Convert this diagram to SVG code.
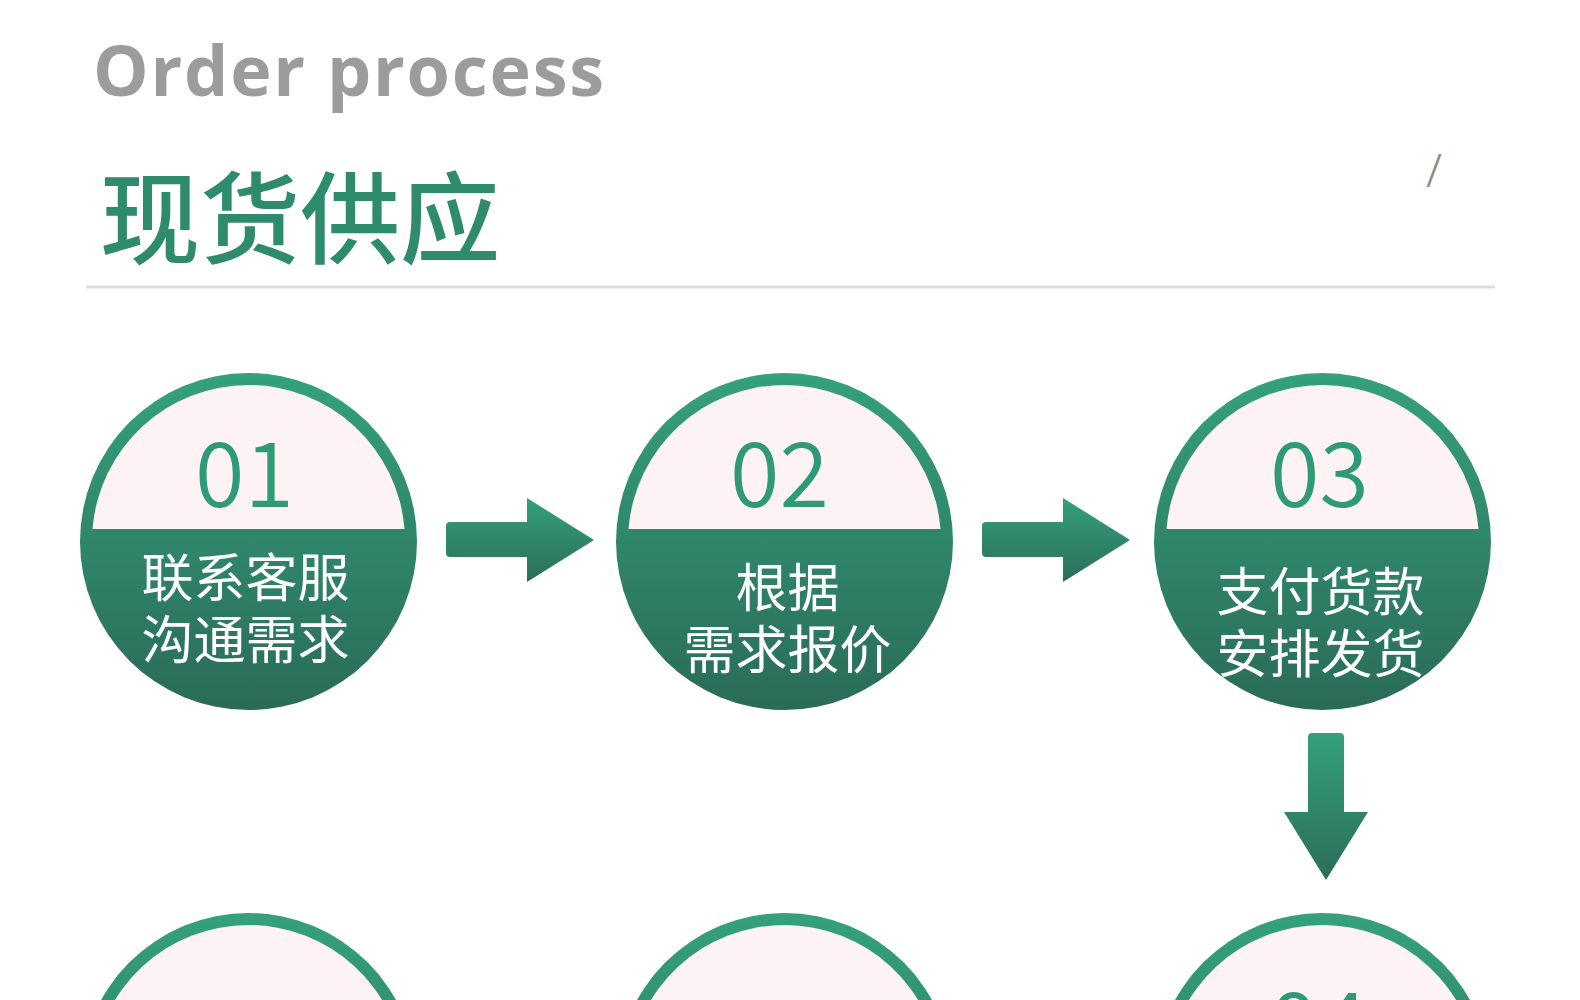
<svg xmlns="http://www.w3.org/2000/svg" width="1580" height="1000" viewBox="0 0 1580 1000">
  <defs>
    <linearGradient id="gGreen" x1="0" y1="0" x2="0" y2="1">
      <stop offset="0" stop-color="#35a17d"/>
      <stop offset="1" stop-color="#2a6b57"/>
    </linearGradient>
    <linearGradient id="gArrow" x1="0" y1="0" x2="0" y2="1">
      <stop offset="0" stop-color="#34a07c"/>
      <stop offset="1" stop-color="#2b6e59"/>
    </linearGradient>
    <g id="disc">
      <circle cx="0" cy="0" r="168.5" fill="url(#gGreen)"/>
      <path d="M -156 -12.5 A 156.5 156.5 0 0 1 156 -12.5 Z" fill="#fdf3f4"/>
    </g>
  </defs>
  <style>
    .en { font-family: "Open Sans", "Noto Sans", "Liberation Sans", sans-serif; font-weight: 700; font-size: 70px; fill: #9c9c9c; letter-spacing: 1.8px; }
    .title { font-family: "Noto Sans CJK SC", "Noto Sans", sans-serif; font-weight: 500; font-size: 100px; fill: #2e8b6c; }
    .num { font-family: "Noto Sans CJK SC", "Noto Sans", sans-serif; font-weight: 350; font-size: 90px; fill: #2f9a77; text-anchor: middle; }
    .lbl { font-family: "Noto Sans CJK SC", "Noto Sans", sans-serif; font-weight: 400; font-size: 52px; fill: #ffffff; text-anchor: middle; }
    .arrow { fill: url(#gArrow); }
  </style>
  <rect width="1580" height="1000" fill="#ffffff"/>

  <g id="header">
    <text class="en" x="93" y="96">Order process</text>
    <text class="title" x="100" y="256">现货供应</text>
    <line x1="86" y1="287" x2="1495" y2="287" stroke="#dddddd" stroke-width="3"/>
    <text x="1426" y="187" font-family="Noto Sans, sans-serif" font-weight="300" font-size="46" fill="#8a8a8a">/</text>
  </g>

  <g id="node-01" transform="translate(248.5 541.5)">
    <use href="#disc"/>
    <text class="num" x="-4" y="-34.5">01</text>
    <text class="lbl" x="-3" y="55.5">联系客服</text>
    <text class="lbl" x="-3" y="117.5">沟通需求</text>
  </g>

  <g id="node-02" transform="translate(784.5 541.5)">
    <use href="#disc"/>
    <text class="num" x="-5" y="-34.5">02</text>
    <text class="lbl" x="3" y="65.5">根据</text>
    <text class="lbl" x="3" y="127.5">需求报价</text>
  </g>

  <g id="node-03" transform="translate(1322.5 541.5)">
    <use href="#disc"/>
    <text class="num" x="-3" y="-34.5">03</text>
    <text class="lbl" x="-2" y="69.5">支付货款</text>
    <text class="lbl" x="-2" y="131.5">安排发货</text>
  </g>

  <g id="node-row2-a" transform="translate(248.5 1081.5)">
    <use href="#disc"/>
  </g>
  <g id="node-row2-b" transform="translate(784.5 1081.5)">
    <use href="#disc"/>
  </g>
  <g id="node-04" transform="translate(1322.5 1081.5)">
    <use href="#disc"/>
    <text class="num" x="-4" y="-25">04</text>
  </g>

  <g id="connectors">
    <path class="arrow" d="M 450 522 H 527 V 498 L 594 540 L 527 582 V 557 H 450 Q 446 557 446 553 V 526 Q 446 522 450 522 Z"/>
    <path class="arrow" d="M 986 522 H 1063 V 498 L 1130 540 L 1063 582 V 557 H 986 Q 982 557 982 553 V 526 Q 982 522 986 522 Z"/>
    <path class="arrow" d="M 1312 733 H 1340 Q 1344 733 1344 737 V 812 H 1368 L 1326 880 L 1284 812 H 1308 V 737 Q 1308 733 1312 733 Z"/>
  </g>
</svg>
